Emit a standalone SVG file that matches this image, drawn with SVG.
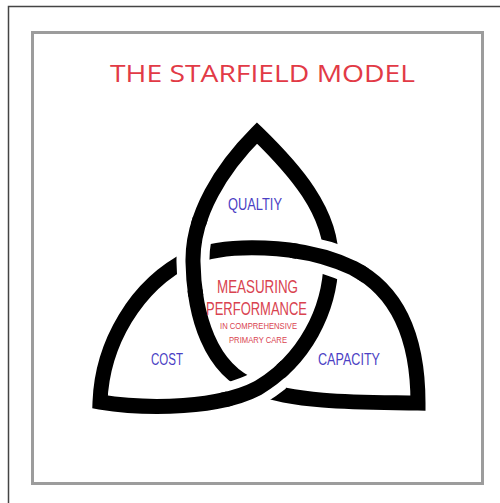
<svg xmlns="http://www.w3.org/2000/svg" xmlns:xlink="http://www.w3.org/1999/xlink" width="500" height="503" viewBox="0 0 500 503">
  <style>
    .band { fill: none; stroke: #000; stroke-width: 15; stroke-linejoin: miter; stroke-miterlimit: 6; }
    .gap { fill: none; stroke: #fff; stroke-width: 33; }
    .lbl { font-family: "Liberation Sans", Arial, sans-serif; fill: #4b3fc4; font-size: 16px; text-anchor: middle; }
    .ctr { font-family: "Liberation Sans", Arial, sans-serif; fill: #d9434f; text-anchor: middle; }
  </style>
  <defs>
    <path id="arcA" d="M257,133 C222,168 192,215 193,262 C194,315 210,370 255,387 C300,404 370,402 418,403"/>
    <path id="arcB" d="M257,133 C293,168 333,212 331,262 C330,310 305,360 258,388 C220,408 150,410 100,402"/>
    <path id="arcC" d="M100,402 C102,345 135,285 190,258 C225,243 300,243 353,268 C400,292 418,340 418,403"/>
    <clipPath id="x1"><circle cx="192" cy="257" r="34"/></clipPath>
    <clipPath id="x1b"><circle cx="192" cy="257" r="40"/></clipPath>
    <clipPath id="x2"><circle cx="330" cy="259" r="34"/></clipPath>
    <clipPath id="x2b"><circle cx="330" cy="259" r="40"/></clipPath>
    <clipPath id="x3"><circle cx="256" cy="387" r="30"/></clipPath>
    <clipPath id="x3b"><circle cx="256" cy="387" r="36"/></clipPath>
  </defs>
  <rect x="0" y="0" width="500" height="503" fill="#fff"/>
  <g id="frame">
    <path d="M8.5,503 V6.5 H500" fill="none" stroke="#444" stroke-width="1.5"/>
    <rect x="32.5" y="32.5" width="450" height="451" fill="none" stroke="#9c9c9c" stroke-width="3"/>
  </g>
  <g id="title">
    <text x="262.5" y="82" font-family="'Open Sans', 'Liberation Sans', sans-serif" font-size="24" fill="#e23a46" text-anchor="middle" textLength="305" lengthAdjust="spacingAndGlyphs">THE STARFIELD MODEL</text>
  </g>
  <g id="connectors">
    <path class="band" d="M100,402 C102,345 135,285 190,258 C225,243 300,243 353,268 C400,292 418,340 418,403 C370,402 300,404 255,387 C210,370 194,315 193,262 C192,215 222,168 257,133 C293,168 333,212 331,262 C330,310 305,360 258,388 C220,408 150,410 100,402 Z"/>
    <use xlink:href="#arcA" class="gap" clip-path="url(#x1)"/><use xlink:href="#arcA" class="band" clip-path="url(#x1b)"/>
    <use xlink:href="#arcC" class="gap" clip-path="url(#x2)"/><use xlink:href="#arcC" class="band" clip-path="url(#x2b)"/>
    <use xlink:href="#arcB" class="gap" clip-path="url(#x3)"/><use xlink:href="#arcB" class="band" clip-path="url(#x3b)"/>
  </g>
  <g id="quality">
    <text class="lbl" x="255" y="210" textLength="54" lengthAdjust="spacingAndGlyphs">QUALTIY</text>
  </g>
  <g id="cost">
    <text class="lbl" x="167" y="365" textLength="32" lengthAdjust="spacingAndGlyphs">COST</text>
  </g>
  <g id="capacity">
    <text class="lbl" x="349" y="365" textLength="62" lengthAdjust="spacingAndGlyphs">CAPACITY</text>
  </g>
  <g id="center">
    <text class="ctr" x="257.5" y="293" font-size="18" textLength="81" lengthAdjust="spacingAndGlyphs">MEASURING</text>
    <text class="ctr" x="256.5" y="315" font-size="18" textLength="101" lengthAdjust="spacingAndGlyphs">PERFORMANCE</text>
    <text class="ctr" x="258.5" y="328.5" font-size="8.5" textLength="77" lengthAdjust="spacingAndGlyphs">IN COMPREHENSIVE</text>
    <text class="ctr" x="258" y="343" font-size="8.5" textLength="58" lengthAdjust="spacingAndGlyphs">PRIMARY CARE</text>
  </g>
</svg>
